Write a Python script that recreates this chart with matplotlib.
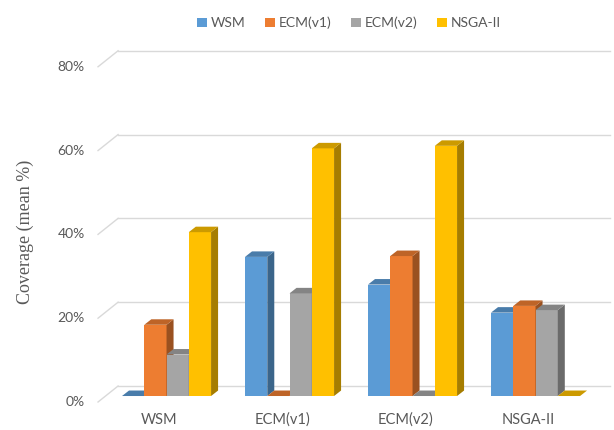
import matplotlib
matplotlib.use("Agg")
import matplotlib.pyplot as plt
from matplotlib.patches import Polygon, Patch
from matplotlib.colors import to_rgb
import numpy as np

# coverage values, one list per method, in group order
groups = ["WSM", "ECM(v1)", "ECM(v2)", "NSGA-II"]
series = ["WSM", "ECM(v1)", "ECM(v2)", "NSGA-II"]
wsm = [0.0, 33.2, 26.6, 19.9]
ecm_v1 = [17.0, 0.0, 33.4, 21.5]
ecm_v2 = [9.9, 24.5, 0.0, 20.5]
nsga = [39.1, 59.1, 59.7, 0.0]
yticks = [0, 20, 40, 60, 80]

colors = ["#5B9BD5", "#ED7D31", "#A5A5A5", "#FFC000"]
values = [wsm, ecm_v1, ecm_v2, nsga]


def shade(c, f):
    r, g, b = to_rgb(c)
    return (r * f, g * f, b * f)


plt.rcParams['font.family'] = ['Lato', 'DejaVu Sans']
fig = plt.figure(figsize=(6.14, 4.30), dpi=100)
ax = fig.add_axes([0, 0, 1, 1])
ax.set_xlim(-1.354, 3.638)
ax.set_ylim(-8.11, 94.5)
ax.axis("off")

# oblique projection offsets (x in group units, y in percent)
bw = 0.181          # bar width
ddx, ddy = 0.057, 1.31     # bar depth
fx, fy = -0.061, -1.43     # floor front edge relative to bar fronts
bx, by = 0.100, 2.39       # back wall relative to bar fronts
x_right = 3.606

grid_c = "#D9D9D9"
for t in yticks:
    ax.plot([fx - 0.496, bx - 0.494], [t + fy, t + by], color=grid_c, lw=1.0, zorder=1)
    ax.plot([bx - 0.494, x_right], [t + by, t + by], color=grid_c, lw=1.0, zorder=1)
    ax.text(-0.663, t + fy, f"{t}%", ha="right", va="center",
            fontsize=10, color="#595959")

z = 2
for i in range(len(groups)):
    for j, (vals, c) in enumerate(zip(values, colors)):
        h = vals[i]
        x0 = i - 2 * bw + j * bw
        x1 = x0 + bw
        # front face
        ax.add_patch(Polygon([(x0, 0), (x1, 0), (x1, h), (x0, h)],
                             closed=True, fc=c, ec="none", zorder=z))
        # side face
        ax.add_patch(Polygon([(x1, 0), (x1 + ddx, ddy), (x1 + ddx, h + ddy), (x1, h)],
                             closed=True, fc=shade(c, 0.65), ec="none", zorder=z))
        # top face
        ax.add_patch(Polygon([(x0, h), (x1, h), (x1 + ddx, h + ddy), (x0 + ddx, h + ddy)],
                             closed=True, fc=shade(c, 0.8), ec="none", zorder=z))
        z += 1
    ax.text(i - 0.06, -5.73, groups[i], ha="center", va="center",
            fontsize=10.5, color="#595959")

fig.text(25 / 614, 1 - 232 / 430, "Coverage (mean %)", rotation=90,
         ha="center", va="center", fontsize=13, color="#595959",
         family="Liberation Serif")

handles = [Patch(fc=c, ec="none") for c in colors]
leg = fig.legend(handles, series, loc="center", ncol=4,
                 bbox_to_anchor=(349 / 614, 1 - 23 / 430), frameon=False,
                 fontsize=10, handlelength=0.7, handleheight=0.7,
                 handletextpad=0.3, columnspacing=1.4)
for txt in leg.get_texts():
    txt.set_color("#595959")

fig.savefig("out.png", dpi=100)
